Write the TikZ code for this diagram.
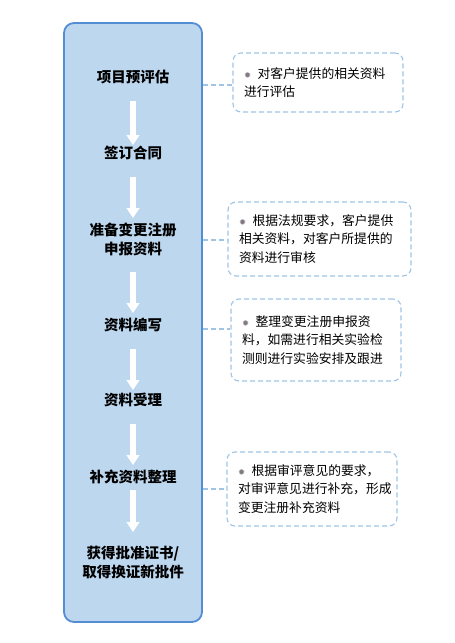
\documentclass[tikz,border=0pt]{standalone}
\usepackage{fontspec}
\setmainfont{Noto Sans CJK SC}
\newfontfamily\symfont{DejaVu Sans}
\usepackage{xcolor}
\usetikzlibrary{arrows.meta}
\definecolor{panelfill}{RGB}{189,215,238}
\definecolor{paneldraw}{RGB}{84,141,212}
\definecolor{notedraw}{RGB}{160,196,230}
\definecolor{pipcolor}{RGB}{130,120,130}
\newcommand{\pip}{{\symfont\fontsize{8.5}{8.5}\selectfont\textcolor{pipcolor}{✹}}\ \,}

\begin{document}
\begin{tikzpicture}[x=1pt,y=-1pt,
  step label/.style={font=\fontsize{14.5}{19}\selectfont\bfseries, align=center, inner sep=0pt},
  note/.style={draw=notedraw, line width=1.1pt, dash pattern=on 5pt off 3pt, rounded corners=8pt,
    font=\fontsize{12.8}{18.5}\selectfont, align=left, inner xsep=11pt, inner ysep=0pt},
  flow/.style={draw=white, line width=5.5pt, -{Triangle[width=12.5pt,length=10pt]}},
  link/.style={draw=notedraw, line width=1.1pt, dash pattern=on 5pt off 3pt}]
\useasboundingbox (0,0) rectangle (455,643);
% the blue panel
\node [draw=paneldraw, fill=panelfill, line width=1.8pt, rounded corners=10pt,
  minimum width=138pt, minimum height=599pt] (panel) at (133,322.5) {};
% steps
\node [step label] (l1) at (133,77) {项目预评估};
\node [step label] (l2) at (133,153) {签订合同};
\node [step label] (l3) at (133,239) {准备变更注册\\申报资料};
\node [step label] (l4) at (133,325) {资料编写};
\node [step label] (l5) at (133,400) {资料受理};
\node [step label] (l6) at (133,477) {补充资料整理};
\node [step label] (l7) at (133,562) {获得批准证书/\\取得换证新批件};
\draw [flow] ([yshift=-24pt]l1.center) -- ([yshift=8pt]l2.center);
\draw [flow] ([yshift=-24pt]l2.center) -- ([yshift=21pt]l3.center);
\draw [flow] ([yshift=-33pt]l3.center) -- ([yshift=12pt]l4.center);
\draw [flow] ([yshift=-24pt]l4.center) -- ([yshift=10pt]l5.center);
\draw [flow] ([yshift=-24pt]l5.center) -- ([yshift=12pt]l6.center);
\draw [flow] ([yshift=-13pt]l6.center) -- ([yshift=30pt]l7.center);
% notes
\node [note, text width=148pt, minimum height=59pt] (c1) at (318,82.5)
  {\pip 对客户提供的相关资料\\进行评估};
\node [note, text width=161pt, minimum height=74pt] (c2) at (319.5,239)
  {\pip 根据法规要求，客户提供\\相关资料，对客户所提供的\\资料进行审核};
\node [note, text width=148pt, minimum height=82pt] (c3) at (316,340)
  {\pip 整理变更注册申报资\\料，如需进行相关实验检\\测则进行实验安排及跟进};
\node [note, text width=148pt, minimum height=74pt] (c4) at (312,489)
  {\pip 根据审评意见的要求，\\对审评意见进行补充，形成\\变更注册补充资料};
\coordinate (k1) at ([yshift=-2.5pt]c1.west);
\coordinate (k2) at ([yshift=-1pt]c2.west);
\coordinate (k3) at ([yshift=11pt]c3.west);
\coordinate (k4) at (c4.west);
\draw [link] (panel.east |- k1) -- (k1);
\draw [link] (panel.east |- k2) -- (k2);
\draw [link] (panel.east |- k3) -- (k3);
\draw [link] (panel.east |- k4) -- (k4);
\end{tikzpicture}
\end{document}
